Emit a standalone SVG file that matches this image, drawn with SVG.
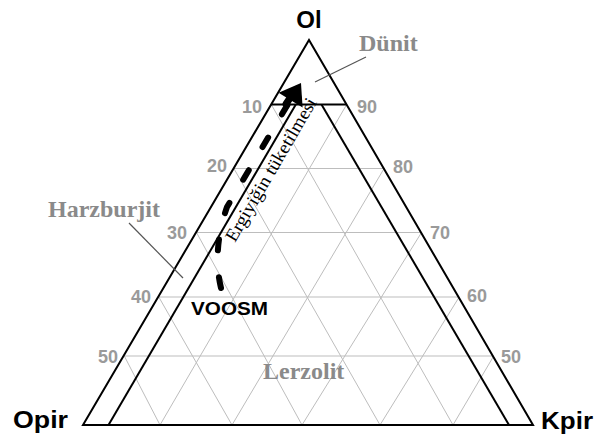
<svg xmlns="http://www.w3.org/2000/svg" width="594" height="439" viewBox="0 0 594 439">
<style>
.grid{stroke:#bdbdbd;stroke-width:1;fill:none}
.edge{stroke:#000;stroke-width:2;fill:none;stroke-linejoin:miter}
.tick{font-family:"Liberation Sans",Arial,sans-serif;font-weight:bold;font-size:18px;fill:#9a9a9a}
.apex{font-family:"Liberation Sans",Arial,sans-serif;font-weight:bold;font-size:24px;fill:#000}
.rock{font-family:"Liberation Serif","Times New Roman",serif;font-weight:bold;font-size:24px;fill:#8a8a8a}
.leader{stroke:#555;stroke-width:1.2;fill:none}
</style>
<rect width="594" height="439" fill="#fff"/>
<g id="grid">
<path class="grid" d="M233.9,168.5H384.1M196.5,232.5H421.5M158.8,297H459.2M124.3,356H493.7"/>
<path class="grid" d="M271.3,104.5L453,425M233.9,168.5L380,425M196.5,232.5L302,425M158.8,297L232,425M124.3,356L160,425"/>
<path class="grid" d="M346.7,104.5L160,425M384.1,168.5L232,425M421.5,232.5L302,425M459.2,297L380,425M493.7,356L453,425"/>
</g>
<g id="triangle">
<path class="edge" d="M83,425L309,40L533,425Z"/>
<path class="edge" d="M271.3,104.5H346.7"/>
<path class="edge" d="M108.5,425L295.8,104.5"/>
<path class="edge" d="M509,425L321.5,104.5"/>
</g>
<g id="ticks" class="tick">
<text x="262" y="113" text-anchor="end">10</text>
<text x="227" y="172" text-anchor="end">20</text>
<text x="187" y="239" text-anchor="end">30</text>
<text x="151" y="303" text-anchor="end">40</text>
<text x="118" y="363" text-anchor="end">50</text>
<text x="357" y="113">90</text>
<text x="393" y="173">80</text>
<text x="430" y="239">70</text>
<text x="467" y="302">60</text>
<text x="501" y="363">50</text>
</g>
<g id="node-ol"><text class="apex" x="309" y="28" text-anchor="middle">Ol</text></g>
<g id="node-opir"><text class="apex" x="13" y="428" textLength="55" lengthAdjust="spacingAndGlyphs">Opir</text></g>
<g id="node-kpir"><text class="apex" x="541" y="429" textLength="52" lengthAdjust="spacingAndGlyphs">Kpir</text></g>
<g id="node-dunit">
<text class="rock" x="359" y="51">Dünit</text>
<line class="leader" x1="366" y1="57" x2="315" y2="82"/>
</g>
<g id="node-harzburjit">
<text class="rock" x="48" y="217">Harzburjit</text>
<line class="leader" x1="129" y1="223" x2="183" y2="278"/>
</g>
<g id="node-lerzolit"><text class="rock" x="263" y="379">Lerzolit</text></g>
<g id="node-voosm"><text x="191" y="315" font-family="Liberation Sans,Arial,sans-serif" font-weight="bold" font-size="19" textLength="77" lengthAdjust="spacingAndGlyphs">VOOSM</text></g>
<g id="connectors">
<path d="M221,288 Q212,250 227,207 L288,104" fill="none" stroke="#000" stroke-width="6" stroke-linecap="round" stroke-dasharray="11 27"/>
<path d="M301,83 L278.6,92.8 L302.6,107.4 Z" fill="#000"/>
<path d="M286,104 L294,92" stroke="#000" stroke-width="7" stroke-linecap="round"/>
<text transform="translate(235,243) rotate(-59.7)" font-family="Liberation Serif,Times New Roman,serif" font-size="18.5" textLength="163" lengthAdjust="spacingAndGlyphs" fill="#000">Ergiyiğin tüketilmesi</text>
</g>
</svg>
